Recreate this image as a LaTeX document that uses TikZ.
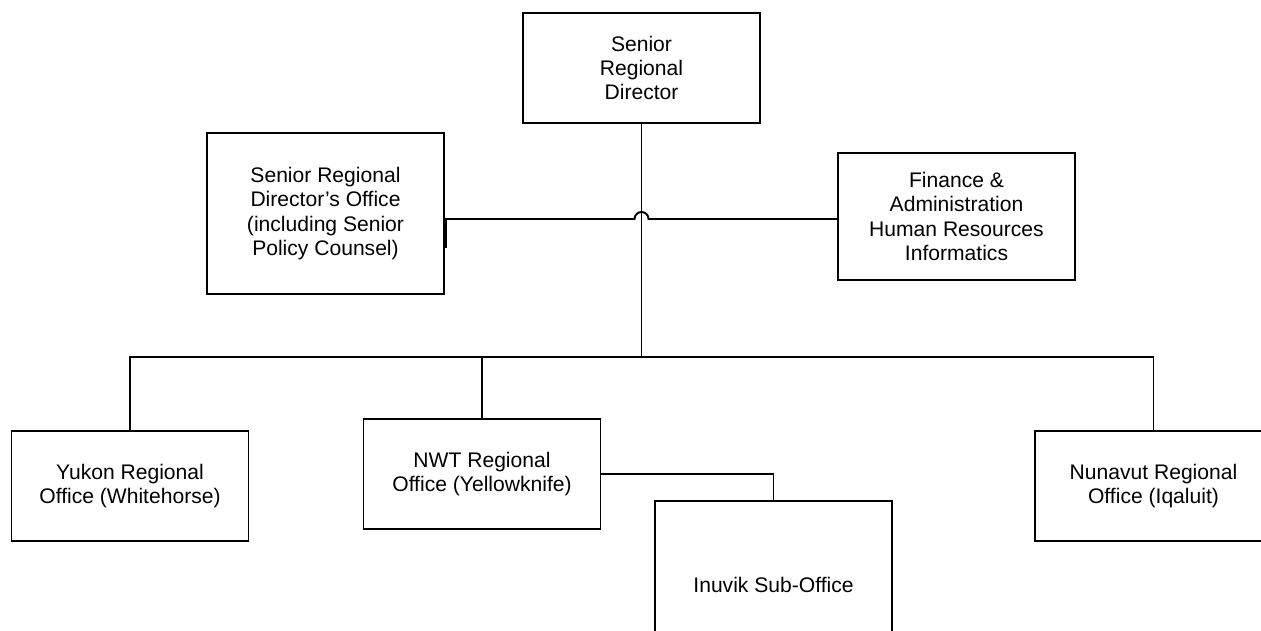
\documentclass[tikz,border=0pt]{standalone}
\usepackage{fontspec}
\setmainfont{Liberation Sans}
\usetikzlibrary{positioning,calc}
\tikzset{office/.style={draw=black,line width=1.1pt,align=center,minimum width=4.74cm,minimum height=2.2cm,inner sep=0pt,font=\fontsize{12}{13.9}\selectfont},link/.style={draw=black,line width=1.1pt}}
\begin{document}
\begin{tikzpicture}[x=0.02cm,y=-0.02cm]
\useasboundingbox(0,0)rectangle(1261,631);
\node[office](srd)at(641.5,68){Senior\\Regional\\Director};
\node[office,minimum height=3.22cm](sro)at(325.5,213.5){Senior Regional\\Director’s Office\\(including Senior\\Policy Counsel)};
\node[office,minimum height=2.54cm](fin)at(956.5,216.5){Finance \&\\Administration\\Human Resources\\Informatics};
\node[office](yuk)at(130,486){Yukon Regional\\Office (Whitehorse)};
\node[office](nwt)at(482,474){NWT Regional\\Office (Yellowknife)};
\node[office](nun)at(1153.5,486){Nunavut Regional\\Office (Iqaluit)};
\node[office,minimum height=3.34cm](inu)at(773.5,584.5){Inuvik Sub-Office};
\coordinate(hop)at(641.5,219);\coordinate(bus)at(641.5,357);
\draw[link](srd)--(bus);
\draw[link](sro.east|-hop)--($(hop)+(-7,0)$)arc[start angle=180,end angle=0,radius=0.14cm]--(fin.west|-hop);
\draw[line width=1.8pt](sro.east|-hop)--++(0,29);
\draw[link](yuk.north)|-(bus);\draw[link](nwt.north)|-(bus);\draw[link](nun.north)|-(bus);
\draw[link](nwt.east)-|(inu.north);
\end{tikzpicture}
\end{document}
